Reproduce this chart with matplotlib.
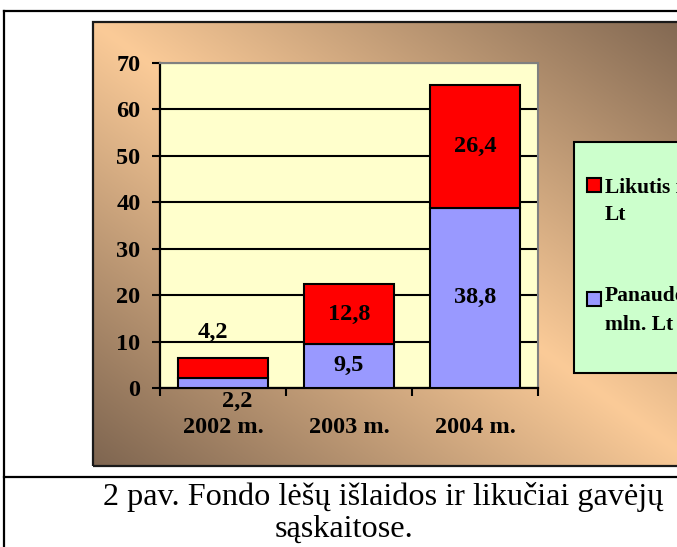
import numpy as np
import matplotlib.pyplot as plt
from matplotlib.patches import Rectangle
from matplotlib.lines import Line2D

W, H = 677, 547

# data (mln. Lt)
years = ["2002 m.", "2003 m.", "2004 m."]
used = [2.2, 9.5, 38.8]        # Panaudota
left_over = [4.2, 12.8, 26.4]  # Likutis
used_labels = ["2,2", "9,5", "38,8"]
left_labels = ["4,2", "12,8", "26,4"]
yticks = [0, 10, 20, 30, 40, 50, 60, 70]
legend_red = ["Likutis mln.", "Lt"]
legend_blue = ["Panaudota", "mln. Lt"]
caption = ["2 pav. Fondo lėšų išlaidos ir likučiai gavėjų", "sąskaitose."]

plt.rcParams["font.family"] = ["Liberation Serif", "DejaVu Serif"]
plt.rcParams["font.weight"] = "bold"
plt.rcParams["font.size"] = 17.5


def fx(x):
    return x / W


def fy(y):
    return 1 - y / H


fig = plt.figure(figsize=(W / 100, H / 100), dpi=100)

# chart area with diagonal gradient
bx0, by0, bx1, by1 = 93, 22, 700, 466
bg = fig.add_axes([fx(bx0), fy(by1), (bx1 - bx0) / W, (by1 - by0) / H])
bg.set_axis_off()
U, V = np.meshgrid(np.linspace(0, 1, 400), np.linspace(0, 1, 400))
t = np.clip(np.abs(U - V), 0, 1)[..., None]
light = np.array([251, 203, 152]) / 255
dark = np.array([126, 101, 80]) / 255
bg.imshow(light + (dark - light) * t, extent=(0, 1, 0, 1), aspect="auto")
bg.set_xlim(0, 1)
bg.set_ylim(0, 1)
bg.add_patch(Rectangle((0, 0), 1, 1, transform=bg.transAxes, fill=False,
                       edgecolor="#1a1a1a", lw=1.6, clip_on=False))

# plot area
ax = fig.add_axes([fx(160), fy(388), (538 - 160) / W, (388 - 63) / H])
ax.set_facecolor("#FFFFCC")
x = np.arange(len(years))
b_used = ax.bar(x, used, 0.72, color="#9999FF", edgecolor="black", lw=1.5, zorder=3)
b_left = ax.bar(x, left_over, 0.72, bottom=used, color="#FF0000",
                edgecolor="black", lw=1.5, zorder=3)

ax.set_xlim(-0.5, 2.5)
ax.set_ylim(0, 70)
ax.set_yticks(yticks)
ax.yaxis.grid(True, color="black", lw=1.5)
ax.set_axisbelow(True)

ax.set_xticks(x, years)
ax.set_xticks([-0.5, 0.5, 1.5, 2.5], minor=True)
ax.tick_params(axis="x", which="major", length=0, pad=21)
ax.tick_params(axis="x", which="minor", length=6, width=1.5, direction="out")
ax.tick_params(axis="y", length=6, width=1.5, pad=8)

for side in ["left", "bottom"]:
    ax.spines[side].set_color("black")
    ax.spines[side].set_linewidth(1.6)
for side in ["top", "right"]:
    ax.spines[side].set_color("#808080")
    ax.spines[side].set_linewidth(1.5)

# value labels
for i in range(len(years)):
    top = used[i] + left_over[i]
    if left_over[i] >= 5:
        ax.text(i, used[i] + left_over[i] / 2, left_labels[i], ha="center", va="center", zorder=4)
    else:
        ax.text(i - 0.08, top + 5.6, left_labels[i], ha="center", va="center", zorder=4)
    if used[i] >= 5:
        ax.text(i, used[i] / 2, used_labels[i], ha="center", va="center", zorder=4)
    else:
        ax.text(i + 0.11, -3.0, used_labels[i], ha="center", va="center",
                zorder=4, clip_on=False)

# legend box (runs past the right edge, as in the source)
fig.add_artist(Rectangle((fx(574), fy(373)), (760 - 574) / W, (373 - 142) / H,
                         transform=fig.transFigure, facecolor="#CCFFCC",
                         edgecolor="black", lw=1.5))
for bars, lines, ytop, ybase in [(b_left, legend_red, 178, (193, 220)),
                                 (b_used, legend_blue, 292, (301, 330))]:
    fig.add_artist(Rectangle((fx(587), fy(ytop + 14)), 14 / W, 14 / H,
                             transform=fig.transFigure,
                             facecolor=bars.patches[0].get_facecolor(),
                             edgecolor="black", lw=1.5))
    for txt, yb in zip(lines, ybase):
        fig.text(fx(605), fy(yb), txt, fontsize=15.5, va="baseline")

# page frame lines
for xs, ys in [([fx(4), 1], [fy(11), fy(11)]),
               ([fx(4), fx(4)], [fy(11), 0]),
               ([fx(4), 1], [fy(477), fy(477)])]:
    fig.add_artist(Line2D(xs, ys, color="black", lw=1.6))

# caption
fig.text(fx(103), fy(505), caption[0], fontsize=23.2, fontweight="normal", va="baseline")
fig.text(fx(275), fy(537), caption[1], fontsize=23.2, fontweight="normal", va="baseline")

fig.savefig("out.png", dpi=100)
